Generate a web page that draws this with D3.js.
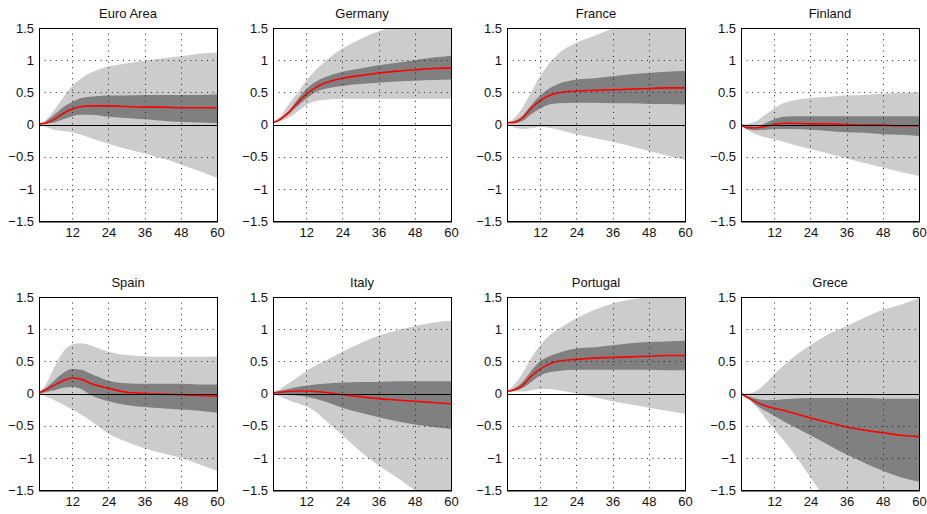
<!DOCTYPE html>
<html>
<head>
<meta charset="utf-8">
<script src="https://cdn.jsdelivr.net/npm/d3@7"></script>
<style>
  html, body { margin: 0; padding: 0; background: #fff; }
  svg { display: block; }
  text { font-family: "Liberation Sans", Arial, Helvetica, sans-serif; }
</style>
</head>
<body>
<svg id="chart" width="927" height="514"></svg>
<script>
const countries = ["Euro Area", "Germany", "France", "Finland", "Spain", "Italy", "Portugal", "Grece"];
const horizons = [1, 3, 6, 9, 12, 15, 18, 24, 30, 36, 42, 48, 54, 60];
const xTicks = [12, 24, 36, 48, 60];
const yTicks = [-1.5, -1, -0.5, 0, 0.5, 1, 1.5];

// 90% band upper
const hi90 = [
  [0, 0.06, 0.22, 0.42, 0.6, 0.72, 0.8, 0.9, 0.95, 0.99, 1.03, 1.06, 1.1, 1.12],
  [0.04, 0.1, 0.3, 0.48, 0.68, 0.84, 0.97, 1.18, 1.33, 1.45, 1.53, 1.58, 1.62, 1.65],
  [0.02, 0.08, 0.25, 0.5, 0.75, 0.95, 1.1, 1.27, 1.38, 1.49, 1.55, 1.6, 1.62, 1.65],
  [0, 0.01, 0.05, 0.15, 0.25, 0.33, 0.37, 0.41, 0.43, 0.45, 0.46, 0.48, 0.49, 0.5],
  [0.02, 0.12, 0.4, 0.65, 0.76, 0.78, 0.75, 0.65, 0.6, 0.58, 0.57, 0.57, 0.57, 0.58],
  [0.02, 0.06, 0.15, 0.25, 0.35, 0.43, 0.5, 0.65, 0.78, 0.9, 0.98, 1.05, 1.1, 1.13],
  [0.04, 0.12, 0.3, 0.55, 0.75, 0.9, 1.0, 1.17, 1.3, 1.4, 1.46, 1.5, 1.53, 1.55],
  [0, 0, 0.04, 0.15, 0.3, 0.43, 0.55, 0.75, 0.92, 1.05, 1.18, 1.3, 1.38, 1.48]
];
// 68% band upper
const hi68 = [
  [0, 0.04, 0.15, 0.27, 0.35, 0.41, 0.43, 0.45, 0.45, 0.46, 0.46, 0.46, 0.46, 0.47],
  [0.04, 0.08, 0.2, 0.38, 0.55, 0.66, 0.73, 0.82, 0.87, 0.92, 0.96, 1.0, 1.04, 1.07],
  [0.03, 0.05, 0.13, 0.3, 0.45, 0.56, 0.63, 0.7, 0.72, 0.75, 0.78, 0.8, 0.82, 0.83],
  [0, -0.02, -0.03, 0.02, 0.08, 0.12, 0.13, 0.13, 0.13, 0.13, 0.13, 0.13, 0.13, 0.13],
  [0.02, 0.08, 0.2, 0.32, 0.38, 0.37, 0.31, 0.2, 0.16, 0.15, 0.15, 0.15, 0.14, 0.14],
  [0.02, 0.04, 0.07, 0.1, 0.12, 0.14, 0.15, 0.17, 0.18, 0.18, 0.19, 0.19, 0.19, 0.19],
  [0.04, 0.07, 0.17, 0.35, 0.5, 0.58, 0.63, 0.7, 0.72, 0.75, 0.78, 0.8, 0.81, 0.82],
  [0, -0.03, -0.08, -0.1, -0.1, -0.09, -0.08, -0.07, -0.07, -0.07, -0.07, -0.08, -0.08, -0.08]
];
// median response
const median = [
  [0.01, 0.02, 0.08, 0.17, 0.24, 0.28, 0.29, 0.29, 0.28, 0.27, 0.27, 0.26, 0.26, 0.26],
  [0.03, 0.07, 0.18, 0.33, 0.47, 0.57, 0.64, 0.72, 0.76, 0.8, 0.83, 0.85, 0.87, 0.88],
  [0.03, 0.03, 0.1, 0.25, 0.37, 0.45, 0.49, 0.52, 0.53, 0.54, 0.55, 0.56, 0.57, 0.57],
  [0, -0.05, -0.05, -0.03, 0, 0.02, 0.02, 0.01, 0.01, 0, -0.01, -0.01, -0.02, -0.02],
  [0.01, 0.05, 0.13, 0.2, 0.24, 0.22, 0.16, 0.08, 0.02, 0, -0.01, -0.02, -0.03, -0.04],
  [0.01, 0.02, 0.03, 0.04, 0.04, 0.03, 0.02, -0.02, -0.05, -0.08, -0.1, -0.12, -0.14, -0.16],
  [0.03, 0.05, 0.12, 0.27, 0.38, 0.46, 0.5, 0.53, 0.55, 0.56, 0.57, 0.58, 0.59, 0.59],
  [0, -0.06, -0.13, -0.19, -0.23, -0.26, -0.3, -0.38, -0.45, -0.52, -0.57, -0.61, -0.65, -0.67]
];
// 68% band lower
const lo68 = [
  [0, 0.01, 0.03, 0.08, 0.13, 0.15, 0.15, 0.12, 0.1, 0.08, 0.06, 0.04, 0.03, 0.02],
  [0.03, 0.06, 0.15, 0.28, 0.4, 0.5, 0.55, 0.6, 0.63, 0.65, 0.67, 0.68, 0.69, 0.7],
  [0.02, 0.02, 0.05, 0.16, 0.25, 0.31, 0.33, 0.34, 0.34, 0.33, 0.33, 0.32, 0.32, 0.31],
  [-0.01, -0.07, -0.09, -0.08, -0.07, -0.07, -0.07, -0.08, -0.1, -0.12, -0.13, -0.15, -0.16, -0.18],
  [0, 0.02, 0.05, 0.09, 0.1, 0.07, -0.02, -0.12, -0.18, -0.21, -0.23, -0.25, -0.27, -0.3],
  [0, -0.01, -0.02, -0.03, -0.05, -0.08, -0.12, -0.22, -0.3, -0.37, -0.43, -0.48, -0.52, -0.55],
  [0.03, 0.04, 0.08, 0.18, 0.28, 0.33, 0.35, 0.37, 0.37, 0.37, 0.37, 0.37, 0.36, 0.36],
  [0, -0.06, -0.18, -0.27, -0.35, -0.43, -0.5, -0.65, -0.8, -0.95, -1.08, -1.2, -1.3, -1.37]
];
// 90% band lower
const lo90 = [
  [0, -0.03, -0.08, -0.1, -0.12, -0.16, -0.21, -0.3, -0.38, -0.45, -0.53, -0.62, -0.72, -0.83],
  [0.02, 0.04, 0.1, 0.2, 0.3, 0.36, 0.38, 0.4, 0.4, 0.4, 0.4, 0.4, 0.4, 0.4],
  [0, -0.04, -0.07, -0.06, -0.04, -0.05, -0.08, -0.15, -0.21, -0.27, -0.34, -0.41, -0.48, -0.55],
  [-0.01, -0.08, -0.15, -0.2, -0.23, -0.27, -0.31, -0.38, -0.45, -0.53, -0.6, -0.67, -0.74, -0.8],
  [0, -0.04, -0.1, -0.17, -0.25, -0.33, -0.42, -0.62, -0.75, -0.85, -0.93, -1.0, -1.1, -1.2],
  [0, -0.04, -0.1, -0.15, -0.2, -0.28, -0.4, -0.65, -0.9, -1.12, -1.3, -1.5, -1.62, -1.72],
  [0.02, 0.03, 0.03, 0.05, 0.07, 0.07, 0.05, 0, -0.06, -0.12, -0.17, -0.22, -0.27, -0.32],
  [0, -0.07, -0.2, -0.38, -0.55, -0.72, -0.9, -1.3, -1.7, -2.0, -2.2, -2.4, -2.5, -2.6]
];

const svg = d3.select("#chart");
const colLeft = [39, 273, 507, 741];
const rowTop = [28, 297];
const W = 178, H = 193;
const fontSize = 13;
const crisp = v => Math.round(v) + 0.5;

countries.forEach((name, i) => {
  const col = i % 4, row = Math.floor(i / 4);
  const x0 = colLeft[col], y0 = rowTop[row];
  const g = svg.append("g").attr("transform", `translate(${x0},${y0})`);
  const x = d3.scaleLinear().domain([1, 60]).range([0, W]);
  const y = d3.scaleLinear().domain([-1.5, 1.5]).range([H, 0]);

  const clipId = "clip" + i;
  g.append("clipPath").attr("id", clipId)
    .append("rect").attr("x", 0).attr("y", 0).attr("width", W).attr("height", H);

  const pts = horizons.map((h, k) => ({
    h, a90: hi90[i][k], a68: hi68[i][k], m: median[i][k], b68: lo68[i][k], b90: lo90[i][k]
  }));
  const curve = d3.curveMonotoneX;
  const plot = g.append("g").attr("clip-path", `url(#${clipId})`);

  plot.append("path").datum(pts)
    .attr("fill", "#cccccc")
    .attr("d", d3.area().curve(curve).x(d => x(d.h)).y0(d => y(d.b90)).y1(d => y(d.a90)));
  plot.append("path").datum(pts)
    .attr("fill", "#808080")
    .attr("d", d3.area().curve(curve).x(d => x(d.h)).y0(d => y(d.b68)).y1(d => y(d.a68)));

  // dotted grid
  const grid = g.append("g").attr("stroke", "#222").attr("stroke-width", 1)
    .attr("stroke-dasharray", "1,4.6");
  xTicks.filter(t => t < 60).forEach(t => {
    grid.append("line").attr("x1", crisp(x(t))).attr("x2", crisp(x(t)))
      .attr("y1", 0).attr("y2", H);
  });
  yTicks.filter(t => t > -1.5 && t < 1.5 && t !== 0).forEach(t => {
    grid.append("line").attr("x1", 0).attr("x2", W)
      .attr("y1", crisp(y(t))).attr("y2", crisp(y(t)));
  });

  // zero line
  g.append("line").attr("x1", 0).attr("x2", W).attr("y1", crisp(y(0))).attr("y2", crisp(y(0)))
    .attr("stroke", "#000").attr("stroke-width", 1);

  // median
  plot.append("path").datum(pts)
    .attr("fill", "none").attr("stroke", "#ff0000").attr("stroke-width", 1.6)
    .attr("d", d3.line().curve(curve).x(d => x(d.h)).y(d => y(d.m)));

  // frame
  g.append("rect").attr("x", 0.5).attr("y", 0.5).attr("width", W).attr("height", H)
    .attr("fill", "none").attr("stroke", "#000").attr("stroke-width", 1);
  g.append("line").attr("x1", 0).attr("x2", W + 1).attr("y1", H + 1).attr("y2", H + 1)
    .attr("stroke", "#000").attr("stroke-width", 1.2);

  // axes
  const yAxis = d3.axisLeft(y).tickValues(yTicks).tickSize(0).tickPadding(5)
    .tickFormat(d => d3.format("")(d).replace("-", "\u2212"));
  const ya = g.append("g").call(yAxis);
  ya.select(".domain").remove();
  ya.selectAll("text").attr("font-size", fontSize).attr("fill", "#111")
    .attr("font-family", "Liberation Sans, Arial, sans-serif");

  const xAxis = d3.axisBottom(x).tickValues(xTicks).tickSize(0).tickPadding(7);
  const xa = g.append("g").attr("transform", `translate(0,${H})`).call(xAxis);
  xa.select(".domain").remove();
  xa.selectAll("text").attr("font-size", fontSize).attr("fill", "#111")
    .attr("font-family", "Liberation Sans, Arial, sans-serif");

  // title
  g.append("text").attr("x", W / 2).attr("y", -10)
    .attr("text-anchor", "middle").attr("font-size", fontSize).attr("fill", "#111")
    .text(name);
});
</script>
</body>
</html>
